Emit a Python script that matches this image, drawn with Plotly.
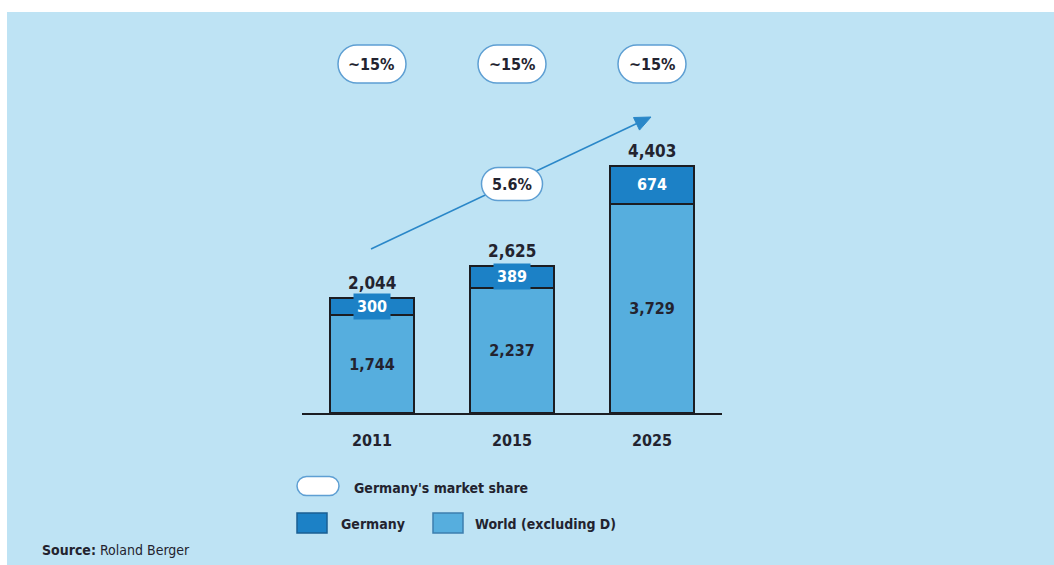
import plotly.graph_objects as go

# ---- data ----
years = ["2011", "2015", "2025"]
world_excl_d = [1744, 2237, 3729]
germany = [300, 389, 674]
totals = [2044, 2625, 4403]
market_share = ["~15%", "~15%", "~15%"]
cagr_label = "5.6%"
source_text = "<b>Source:</b> Roland Berger"

# ---- style ----
W, H = 1054, 565
BG = "#BEE3F4"
C_GER = "#1C81C6"
C_WORLD = "#56AEDE"
C_OUT = "#1b1d22"
C_TXT = "#23232f"
C_ARROW = "#2A87C8"
C_PILL = "#5E9FD3"
FONT = "Liberation Sans Narrow, DejaVu Sans Condensed, Roboto, sans-serif"

def px(x):
    return x / W

def py(y):
    return 1 - y / H

XDOM = [302 / W, 722 / W]
Y_BASE = 413
Y_TOP = Y_BASE * 4403 / 247  # axis range so that 0 sits at pixel row 413

def cat_paper(i):
    return XDOM[0] + (i + 0.5) / len(years) * (XDOM[1] - XDOM[0])

def pill_path(w, h):
    r = h / 2
    a = w / 2 - r
    k = 0.5523 * r
    return (f"M {-a},{-r} L {a},{-r} C {a+k},{-r} {a+r},{-k} {a+r},0 "
            f"C {a+r},{k} {a+k},{r} {a},{r} L {-a},{r} "
            f"C {-a-k},{r} {-a-r},{k} {-a-r},0 C {-a-r},{-k} {-a-k},{-r} {-a},{-r} Z")

fig = go.Figure()
fig.add_trace(go.Bar(
    x=years, y=world_excl_d, name="World (excluding D)",
    marker=dict(color=C_WORLD, line=dict(color=C_OUT, width=2)),
    text=[f"{v:,}" for v in world_excl_d], textposition="inside",
    insidetextanchor="middle",
    textfont=dict(family=FONT, size=16, color=C_TXT, weight="bold"),
    showlegend=False, hoverinfo="skip",
))
fig.add_trace(go.Bar(
    x=years, y=germany, name="Germany",
    marker=dict(color=C_GER, line=dict(color=C_OUT, width=2)),
    showlegend=False, hoverinfo="skip",
))

shapes = []
annotations = []

# background panel
shapes.append(dict(type="rect", xref="paper", yref="paper", x0=px(7), x1=1, y0=0, y1=py(12),
                   fillcolor=BG, line=dict(width=0), layer="below"))

# growth arrow
tip = (651, 117)
shapes.append(dict(type="line", xref="paper", yref="paper", x0=px(371), y0=py(249),
                   x1=px(640), y1=py(122), line=dict(color=C_ARROW, width=1.6), layer="above"))
shapes.append(dict(type="path", xref="paper", yref="paper", xsizemode="pixel", ysizemode="pixel",
                   xanchor=px(tip[0]), yanchor=py(tip[1]),
                   path="M 0,0 L -17.5,-0.5 L -11.5,-13.1 Z",
                   fillcolor=C_ARROW, line=dict(color=C_ARROW, width=1), layer="above"))

# market share pills
for i, s in enumerate(market_share):
    shapes.append(dict(type="path", xref="paper", yref="paper", xsizemode="pixel", ysizemode="pixel",
                       xanchor=cat_paper(i), yanchor=py(64), path=pill_path(68, 38),
                       fillcolor="white", line=dict(color=C_PILL, width=1.5), layer="above"))
    annotations.append(dict(xref="paper", yref="paper", x=cat_paper(i), y=py(64), text=s,
                            showarrow=False, font=dict(family=FONT, size=16, color=C_TXT, weight="bold"),
                            xanchor="center", yanchor="middle"))

# CAGR pill
shapes.append(dict(type="path", xref="paper", yref="paper", xsizemode="pixel", ysizemode="pixel",
                   xanchor=cat_paper(1), yanchor=py(184), path=pill_path(61, 33),
                   fillcolor="white", line=dict(color=C_PILL, width=1.5), layer="above"))
annotations.append(dict(xref="paper", yref="paper", x=cat_paper(1), y=py(184), text=cagr_label,
                        showarrow=False, font=dict(family=FONT, size=16, color=C_TXT, weight="bold"),
                        xanchor="center", yanchor="middle"))

# Germany labels and totals (x given as category index)
for i, yr in enumerate(years):
    annotations.append(dict(x=i, y=world_excl_d[i] + germany[i] / 2, xref="x", yref="y",
                            text=f"{germany[i]:,}", showarrow=False, bgcolor=C_GER, borderpad=3,
                            font=dict(family=FONT, size=16, color="white", weight="bold")))
    annotations.append(dict(x=i, y=totals[i], xref="x", yref="y", text=f"{totals[i]:,}",
                            showarrow=False, yanchor="bottom", yshift=3,
                            font=dict(family=FONT, size=17, color=C_TXT, weight="bold")))

# legend
shapes.append(dict(type="path", xref="paper", yref="paper", xsizemode="pixel", ysizemode="pixel",
                   xanchor=px(318), yanchor=py(486), path=pill_path(42, 19),
                   fillcolor="white", line=dict(color=C_PILL, width=1.5), layer="above"))
shapes.append(dict(type="rect", xref="paper", yref="paper", x0=px(297), x1=px(327), y0=py(533), y1=py(513),
                   fillcolor=C_GER, line=dict(color="#1a5f92", width=1.5), layer="above"))
shapes.append(dict(type="rect", xref="paper", yref="paper", x0=px(433), x1=px(463), y0=py(533), y1=py(513),
                   fillcolor=C_WORLD, line=dict(color="#3d7fae", width=1.5), layer="above"))
leg_font = dict(family=FONT, size=14, color=C_TXT, weight="bold")
annotations.append(dict(xref="paper", yref="paper", x=px(352), y=py(488), text="Germany's market share",
                        showarrow=False, xanchor="left", yanchor="middle", font=leg_font))
annotations.append(dict(xref="paper", yref="paper", x=px(339), y=py(524), text="Germany",
                        showarrow=False, xanchor="left", yanchor="middle", font=leg_font))
annotations.append(dict(xref="paper", yref="paper", x=px(473), y=py(524), text="World (excluding D)",
                        showarrow=False, xanchor="left", yanchor="middle", font=leg_font))

# source
annotations.append(dict(xref="paper", yref="paper", x=px(40), y=py(550), text=source_text,
                        showarrow=False, xanchor="left", yanchor="middle",
                        font=dict(family=FONT, size=14, color=C_TXT)))

fig.update_layout(
    width=W, height=H,
    margin=dict(l=0, r=0, t=0, b=0),
    paper_bgcolor="white", plot_bgcolor="rgba(0,0,0,0)",
    barmode="stack", bargap=0.4,
    shapes=shapes, annotations=annotations,
    hovermode=False,
    xaxis=dict(domain=XDOM, type="category", range=[-0.5, 2.5], showline=True,
               linecolor=C_OUT, linewidth=1.5, showgrid=False, zeroline=False,
               ticks="outside", ticklen=12, tickcolor="rgba(0,0,0,0)",
               tickfont=dict(family=FONT, size=16, color=C_TXT, weight="bold")),
    yaxis=dict(domain=[1 - Y_BASE / H, 1], range=[0, Y_TOP], visible=False, showgrid=False),
)

fig.write_html("out.html", config={"displayModeBar": False},
               post_script="document.body.style.margin='0';document.body.style.padding='0';")
